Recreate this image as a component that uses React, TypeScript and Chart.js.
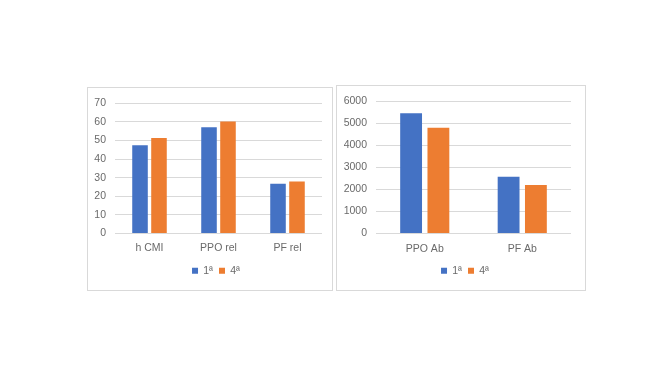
import React, { useEffect, useRef } from "react";
import { Chart, registerables } from "chart.js";

Chart.register(...registerables);

const leftCategories = ["h CMI", "PPO rel", "PF rel"];
const leftFirst = [47.4, 57.1, 26.8];
const leftFourth = [51.3, 60.2, 28.0];

const rightCategories = ["PPO Ab", "PF Ab"];
const rightFirst = [5460, 2570];
const rightFourth = [4800, 2200];

const seriesLabels = ["1ª", "4ª"];
const BLUE = "#4472C4";
const ORANGE = "#ED7D31";
const TEXT = "#6a6a6a";
const GRID = "#d9d9d9";
const FONT = "'Liberation Sans', Arial, sans-serif";

type Cfg = {
  categories: string[];
  a: number[];
  b: number[];
  max: number;
  step: number;
  yWidth: number;
  pad: { top: number; right: number; bottom: number; left: number };
  xHeight: number;
  xPad: number;
  catPct: number;
  barPct: number;
  legendShift: number;
};

function BarChart({ cfg, w, h }: { cfg: Cfg; w: number; h: number }) {
  const ref = useRef<HTMLCanvasElement>(null);
  useEffect(() => {
    if (!ref.current) return;
    const shiftLegend = {
      id: "shiftLegend",
      afterLayout(chart: any) {
        if (chart.legend) {
          chart.legend.left += cfg.legendShift;
          chart.legend.right += cfg.legendShift;
        }
      },
    };
    const chart = new Chart(ref.current, {
      type: "bar",
      data: {
        labels: cfg.categories,
        datasets: [
          { label: seriesLabels[0], data: cfg.a, backgroundColor: BLUE, categoryPercentage: cfg.catPct, barPercentage: cfg.barPct },
          { label: seriesLabels[1], data: cfg.b, backgroundColor: ORANGE, categoryPercentage: cfg.catPct, barPercentage: cfg.barPct },
        ],
      },
      options: {
        animation: false,
        responsive: false,
        maintainAspectRatio: false,
        layout: { padding: cfg.pad },
        plugins: {
          tooltip: { enabled: false },
          legend: {
            position: "bottom",
            labels: { boxWidth: 6, boxHeight: 6, padding: 6, color: TEXT, font: { family: FONT, size: 10.5 } },
          },
        },
        scales: {
          x: {
            grid: { display: false, drawTicks: false },
            border: { display: false },
            ticks: { color: TEXT, padding: cfg.xPad, font: { family: FONT, size: 10.5 } },
            afterFit: (s: any) => { s.height = cfg.xHeight; },
          },
          y: {
            min: 0,
            max: cfg.max,
            ticks: { stepSize: cfg.step, color: TEXT, padding: 9, font: { family: FONT, size: 10.5 }, callback: (v: any) => String(v) },
            grid: { color: GRID, drawTicks: false, lineWidth: 1 },
            border: { display: false },
            afterFit: (s: any) => { s.width = cfg.yWidth; },
          },
        },
      },
      plugins: [shiftLegend],
    });
    return () => chart.destroy();
  }, []);
  return <canvas ref={ref} width={w} height={h} style={{ display: "block", width: w, height: h }} />;
}

const leftCfg: Cfg = {
  categories: leftCategories, a: leftFirst, b: leftFourth, max: 70, step: 10, yWidth: 21,
  pad: { top: 12, right: 10, bottom: 4, left: 6 }, xHeight: 26, xPad: 8, catPct: 0.55, barPct: 0.82, legendShift: 8,
};
const rightCfg: Cfg = {
  categories: rightCategories, a: rightFirst, b: rightFourth, max: 6000, step: 1000, yWidth: 33,
  pad: { top: 13, right: 14, bottom: 4, left: 6 }, xHeight: 26, xPad: 9, catPct: 0.56, barPct: 0.8, legendShift: 8,
};

export default function App() {
  const box = { position: "absolute" as const, border: `1px solid ${GRID}`, background: "#fff" };
  return (
    <div style={{ position: "fixed", left: 0, top: 0, width: 660, height: 365, background: "#fff" }}>
      <div style={{ ...box, left: 87, top: 87, width: 244, height: 202 }}>
        <BarChart cfg={leftCfg} w={244} h={202} />
      </div>
      <div style={{ ...box, left: 336, top: 85, width: 248, height: 204 }}>
        <BarChart cfg={rightCfg} w={248} h={204} />
      </div>
    </div>
  );
}
